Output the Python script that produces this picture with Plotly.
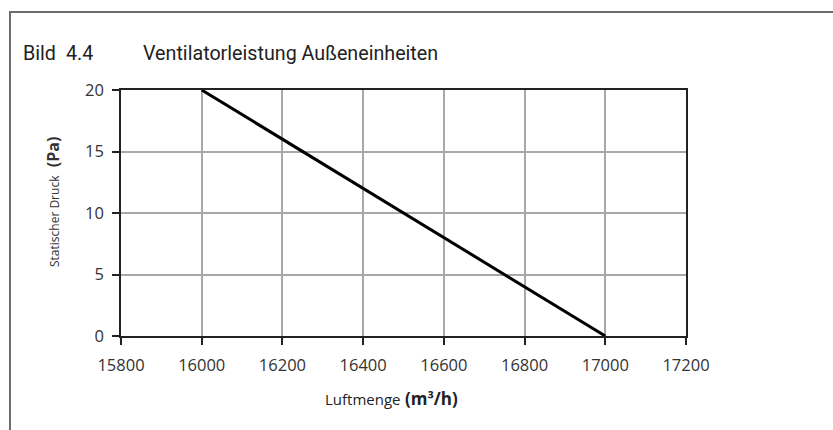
import plotly.graph_objects as go

airflow = [16000, 17000]          # Luftmenge (m³/h)
pressure = [20, 0]                # Statischer Druck (Pa)
x_ticks = [15800, 16000, 16200, 16400, 16600, 16800, 17000, 17200]
x_tick_labels = [str(v) for v in x_ticks]
y_ticks = [0, 5, 10, 15, 20]
y_tick_labels = [str(v) for v in y_ticks]

W, H = 833, 430
L, R, T, B = 121, 686, 90, 336

def px(x):
    return (x - L) / (R - L)

def py(y):
    return (B - y) / (B - T)

fig = go.Figure()
fig.add_trace(go.Scatter(x=airflow, y=pressure, mode="lines",
                         line=dict(color="black", width=3), showlegend=False,
                         hoverinfo="x+y"))

axis_common = dict(showline=True, linecolor="#222", linewidth=1.5, mirror=True,
                   showgrid=True, gridcolor="#a8a8a8", gridwidth=1.5,
                   ticks="outside", ticklen=7, tickcolor="#222", tickwidth=1.5,
                   tickfont=dict(family="Open Sans", size=16.5, color="#333"),
                   zeroline=False)

title_font = dict(family="Roboto", size=19.7, color="#222")

fig.update_layout(
    width=W, height=H,
    margin=dict(l=L, r=W - R, t=T, b=H - B),
    paper_bgcolor="white", plot_bgcolor="white",
    xaxis=dict(range=[15800, 17200], tickvals=x_ticks, ticktext=x_tick_labels,
               ticklabelstandoff=6, **axis_common),
    yaxis=dict(range=[0, 20], tickvals=y_ticks, ticktext=y_tick_labels,
               ticklabelstandoff=5, **axis_common),
    shapes=[dict(type="rect", xref="paper", yref="paper",
                 x0=px(10), x1=px(845), y0=py(445), y1=py(12),
                 line=dict(color="#6b6b6b", width=2), layer="below")],
    annotations=[
        dict(text="Bild", x=px(21), y=py(53), xref="paper", yref="paper",
             xanchor="left", yanchor="middle", showarrow=False, font=title_font),
        dict(text="4.4", x=px(64), y=py(53), xref="paper", yref="paper",
             xanchor="left", yanchor="middle", showarrow=False, font=title_font),
        dict(text="Ventilatorleistung Außeneinheiten", x=px(141), y=py(53),
             xref="paper", yref="paper", xanchor="left", yanchor="middle",
             showarrow=False, font=title_font),
        dict(text="<span style='font-size:12px'>Statischer Druck</span>&nbsp;&nbsp;<b>(Pa)</b>",
             x=px(53), y=py(202), xref="paper", yref="paper", textangle=-90,
             xanchor="center", yanchor="middle", showarrow=False,
             font=dict(family="Open Sans", size=16, color="#333")),
        dict(text="<span style='font-size:15px'>Luftmenge</span> <b>(m³/h)</b>",
             x=px(391), y=py(398), xref="paper", yref="paper",
             xanchor="center", yanchor="middle", showarrow=False,
             font=dict(family="Open Sans", size=17, color="#222")),
    ],
)

fig.write_html("out.html", config={"displayModeBar": False},
               post_script="document.body.style.margin='0';")
